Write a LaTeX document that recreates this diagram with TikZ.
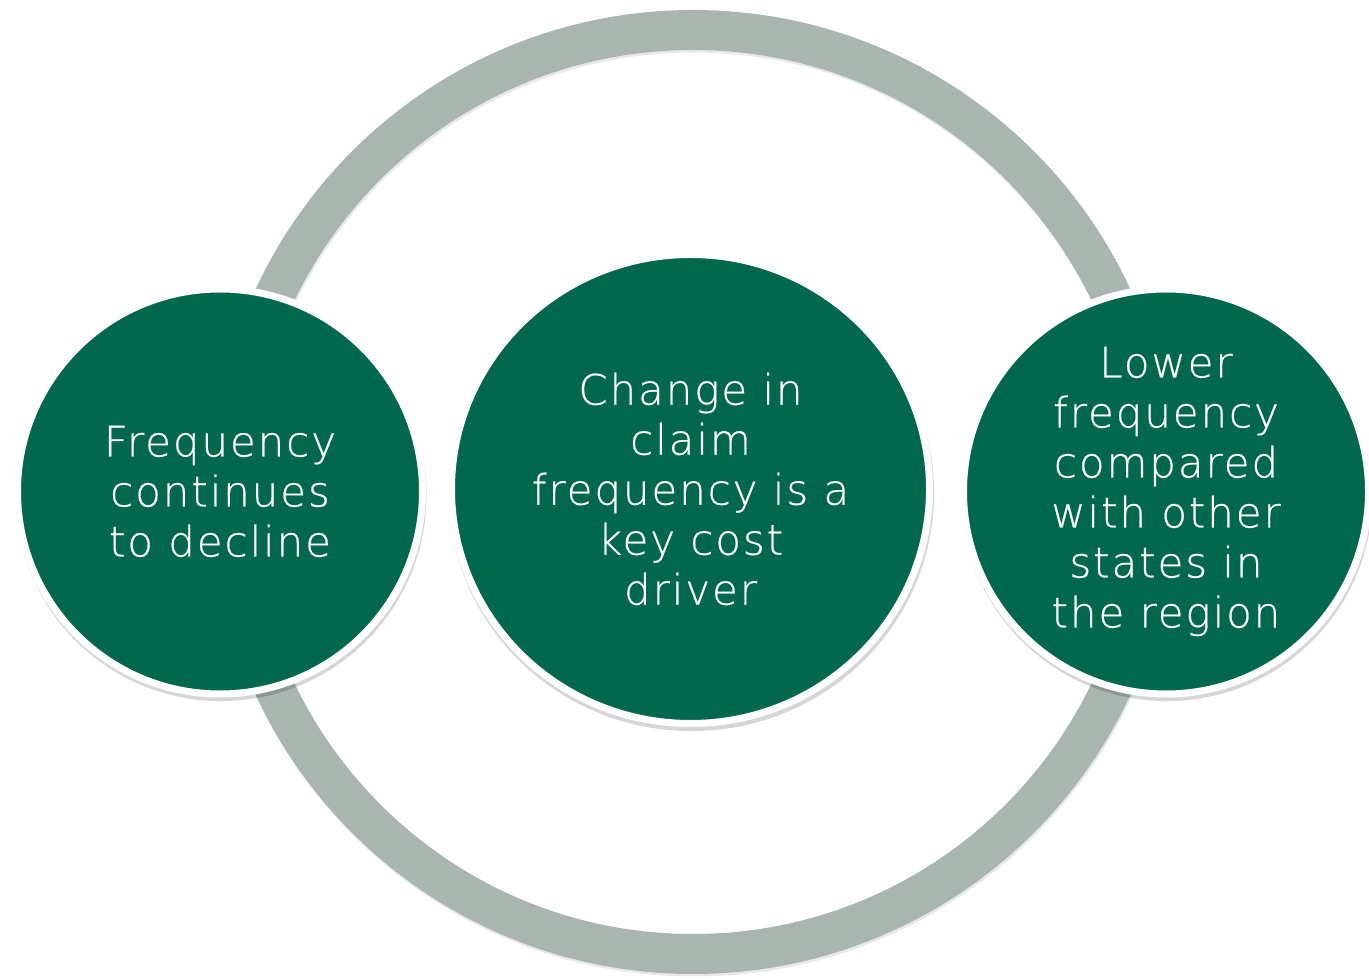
\documentclass[tikz,border=0pt]{standalone}
\usepackage{fontspec}
\setmainfont{DejaVu Sans}[UprightFont={* ExtraLight}, LetterSpace=4.5, FakeBold=0.5]
\usepackage{xcolor}
\usepackage{tikz}
\usetikzlibrary{shapes.geometric,shadows}
\definecolor{ringgray}{HTML}{A8B6AF}
\definecolor{deepgreen}{HTML}{02684D}

\tikzset{
  bubble/.style={draw=white, line width=7pt, fill=deepgreen, inner sep=0pt,
    text=white, align=center, font=\fontsize{42}{50}\selectfont,
    drop shadow={shadow xshift=1pt, shadow yshift=-4pt, shadow scale=1.015, opacity=0.16, fill=black}},
  ringline/.style={circle, line width=40pt, minimum size=924pt, inner sep=0pt},
}

\begin{document}
\begin{tikzpicture}[x=1pt, y=1pt]
\useasboundingbox (0,0) rectangle (1369,980);

% Outer ring with a faint shadow
\node[ringline, draw=black, opacity=0.09] (ringshadow) at (694, 485.5) {};
\node[ringline, draw=ringgray] (ring) at (693, 488) {};

% Left bubble
\node[bubble, circle, minimum size=405pt] (decline) at (220, 488.5)
  {Frequency\\continues\\to decline};

% Centre bubble
\node[bubble, ellipse, minimum width=478pt, minimum height=469pt] (driver) at (690.5, 491)
  {Change in\\claim\\frequency is a\\key cost\\driver};

% Right bubble
\node[bubble, circle, minimum size=405pt] (region) at (1166, 488.5)
  {Lower\\frequency\\compared\\with other\\states in\\the region};

\end{tikzpicture}
\end{document}
